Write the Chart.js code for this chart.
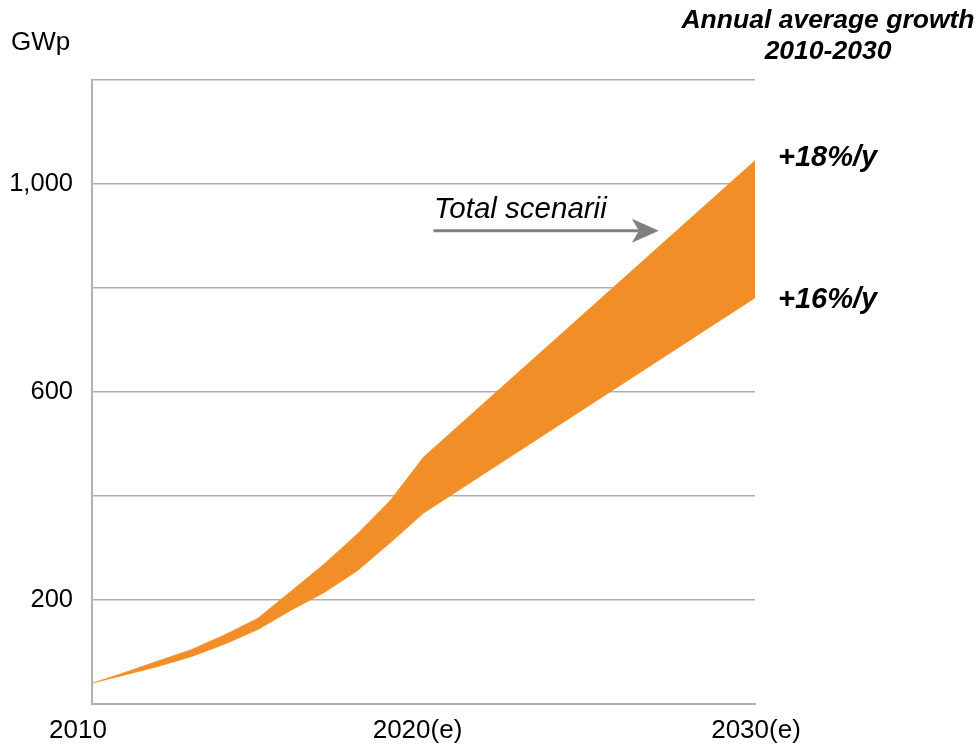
<!DOCTYPE html>
<html>
<head>
<meta charset="utf-8">
<script src="https://cdn.jsdelivr.net/npm/chart.js@4.4.1/dist/chart.umd.min.js"></script>
<style>
  html, body { margin: 0; padding: 0; background: #fff; }
  #pv-chart { display: block; }
</style>
</head>
<body>
<canvas id="pv-chart" width="980" height="748"></canvas>
<script>
// cumulative installed PV, GWp - low and high scenario
var years = [2010, 2011, 2012, 2013, 2014, 2015, 2016, 2017, 2018, 2019, 2020, 2030];
var highScenario = [40, 61, 83, 105, 133, 165, 217, 269, 327, 392, 475, 1045];
var lowScenario = [40, 56, 72, 91, 115, 143, 180, 214, 256, 310, 367, 781];

var xTickYears = [2010, 2020, 2030];
var xTickLabels = ['2010', '2020(e)', '2030(e)'];
var yLabelled = [200, 600, 1000];

var highGrowth = '+18%/y';
var lowGrowth = '+16%/y';

var FONT = "'Liberation Sans', Arial, Helvetica, sans-serif";
var ORANGE = '#f28e28';
var GRID = '#b0b0b0';

function toPoints(vals) {
  var pts = [];
  for (var i = 0; i < years.length; i++) {
    pts.push({ x: years[i], y: vals[i] });
  }
  return pts;
}

// titles, x labels, growth labels and the "Total scenarii" arrow
var textPlugin = {
  id: 'pvText',
  afterDraw: function (chart) {
    var ctx = chart.ctx;
    var xs = chart.scales.x;
    var ys = chart.scales.y;
    ctx.save();
    ctx.fillStyle = '#000';

    ctx.font = '26px ' + FONT;
    ctx.textAlign = 'left';
    ctx.textBaseline = 'middle';
    ctx.fillText('GWp', 11, 43);

    ctx.font = 'italic bold 26.5px ' + FONT;
    ctx.textAlign = 'center';
    ctx.fillText('Annual average growth', 828, 21);
    ctx.fillText('2010-2030', 828, 52);

    // x labels sit a little left of their ticks
    var shift = [-14, -6, 1];
    ctx.font = '26px ' + FONT;
    for (var i = 0; i < xTickYears.length; i++) {
      ctx.fillText(xTickLabels[i], xs.getPixelForValue(xTickYears[i]) + shift[i], 731);
    }

    var last = years.length - 1;
    ctx.font = 'italic bold 29px ' + FONT;
    ctx.textAlign = 'left';
    ctx.fillText(highGrowth, 778, ys.getPixelForValue(highScenario[last]) - 3);
    ctx.fillText(lowGrowth, 778, ys.getPixelForValue(lowScenario[last]) + 2);

    ctx.font = 'italic 29.5px ' + FONT;
    ctx.fillText('Total scenarii', 434, ys.getPixelForValue(950));

    // arrow
    var ay = ys.getPixelForValue(910);
    var x0 = xs.getPixelForValue(2020.3);
    var x1 = xs.getPixelForValue(2027.1);
    ctx.strokeStyle = '#808080';
    ctx.fillStyle = '#808080';
    ctx.lineWidth = 3;
    ctx.beginPath();
    ctx.moveTo(x0, ay);
    ctx.lineTo(x1 - 20, ay);
    ctx.stroke();
    ctx.beginPath();
    ctx.moveTo(x1, ay);
    ctx.lineTo(x1 - 27, ay - 12);
    ctx.lineTo(x1 - 20, ay);
    ctx.lineTo(x1 - 27, ay + 12);
    ctx.closePath();
    ctx.fill();
    ctx.restore();
  }
};

var ctx = document.getElementById('pv-chart');
var pvChart = new Chart(ctx, {
  type: 'line',
  data: {
    datasets: [
      {
        label: 'Low scenario',
        data: toPoints(lowScenario),
        borderColor: ORANGE,
        borderWidth: 0.5,
        pointRadius: 0,
        tension: 0,
        fill: false
      },
      {
        label: 'High scenario',
        data: toPoints(highScenario),
        borderColor: ORANGE,
        borderWidth: 0.5,
        backgroundColor: ORANGE,
        pointRadius: 0,
        tension: 0,
        fill: '-1'
      }
    ]
  },
  options: {
    responsive: false,
    animation: false,
    events: [],
    layout: { padding: { left: 0, right: 225, top: 80, bottom: 0 } },
    plugins: {
      legend: { display: false },
      tooltip: { enabled: false }
    },
    scales: {
      x: {
        type: 'linear',
        min: 2010,
        max: 2030,
        afterFit: function (scale) { scale.height = 44; },
        grid: { display: false, drawTicks: false },
        border: { display: true, color: GRID, width: 2 },
        ticks: { display: false }
      },
      y: {
        min: 0,
        max: 1200,
        afterFit: function (scale) { scale.width = 92; },
        grid: { color: GRID, lineWidth: 1.5, drawTicks: false },
        border: { display: true, color: GRID, width: 2 },
        ticks: {
          stepSize: 200,
          padding: 19,
          color: '#000',
          font: { family: FONT, size: 25.5 },
          callback: function (v) {
            return yLabelled.indexOf(v) >= 0 ? v.toLocaleString('en-US') : '';
          }
        }
      }
    }
  },
  plugins: [textPlugin]
});
</script>
</body>
</html>
